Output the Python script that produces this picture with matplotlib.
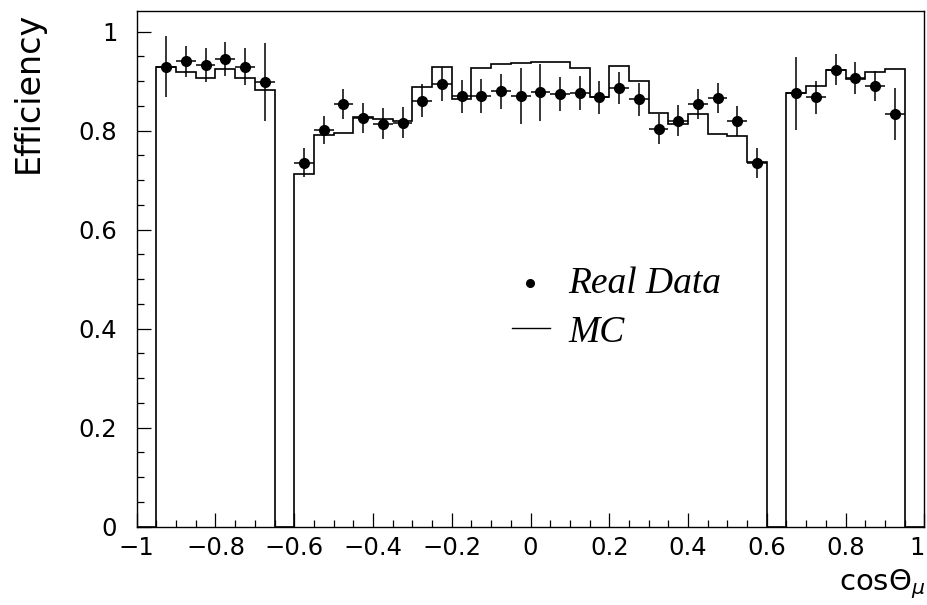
import matplotlib
matplotlib.use("Agg")
import matplotlib.pyplot as plt
from matplotlib.ticker import MultipleLocator
import numpy as np

# 40 bins of width 0.05 on cos(theta_mu); gaps are uninstrumented regions
edges = np.linspace(-1.0, 1.0, 41)
mc_eff = [0.0,
          0.928, 0.919, 0.907, 0.925, 0.907, 0.882,
          0.0,
          0.712, 0.791, 0.796, 0.827, 0.824, 0.820, 0.887, 0.929, 0.863, 0.926, 0.935, 0.936,
          0.938, 0.938, 0.927, 0.867, 0.931, 0.901, 0.835, 0.813, 0.833, 0.793, 0.789, 0.736,
          0.0,
          0.875, 0.889, 0.923, 0.905, 0.919, 0.925,
          0.0]
data_eff = [None,
            0.929, 0.940, 0.933, 0.945, 0.929, 0.898,
            None,
            0.735, 0.801, 0.854, 0.826, 0.814, 0.816, 0.860, 0.894, 0.869, 0.870, 0.879, 0.870,
            0.877, 0.874, 0.876, 0.867, 0.886, 0.863, 0.803, 0.820, 0.853, 0.866, 0.820, 0.734,
            None,
            0.875, 0.867, 0.923, 0.906, 0.890, 0.833,
            None]
data_err = [None,
            0.061, 0.031, 0.034, 0.034, 0.037, 0.078,
            None,
            0.029, 0.028, 0.030, 0.030, 0.031, 0.031, 0.033, 0.034, 0.034, 0.035, 0.036, 0.056,
            0.057, 0.035, 0.035, 0.033, 0.033, 0.033, 0.031, 0.032, 0.030, 0.030, 0.030, 0.030,
            None,
            0.074, 0.034, 0.032, 0.032, 0.030, 0.053,
            None]
xticks = [-1, -0.8, -0.6, -0.4, -0.2, 0, 0.2, 0.4, 0.6, 0.8, 1]
xticklabels = ["\u22121", "\u22120.8", "\u22120.6", "\u22120.4", "\u22120.2", "0",
               "0.2", "0.4", "0.6", "0.8", "1"]
yticks = [0, 0.2, 0.4, 0.6, 0.8, 1]
yticklabels = ["0", "0.2", "0.4", "0.6", "0.8", "1"]

plt.rcParams.update({"font.family": "DejaVu Sans", "font.size": 17.5})

fig = plt.figure(figsize=(9.27, 6.05), dpi=100)
ax = fig.add_axes([0.1475, 0.1294, 0.8496, 0.8529])

ax.stairs(mc_eff, edges, color="black", lw=1.2)

centers = 0.5 * (edges[:-1] + edges[1:])
y = np.array([np.nan if v is None else v for v in data_eff])
e = np.array([np.nan if v is None else v for v in data_err])
ok = ~np.isnan(y)
ax.errorbar(centers[ok], y[ok], yerr=e[ok], xerr=0.025, fmt="o", color="black",
            ms=7, elinewidth=1.1, capsize=0, zorder=3)

ax.set_xlim(-1, 1); ax.set_ylim(0, 1.042)
ax.set_xticks(xticks); ax.set_xticklabels(xticklabels)
ax.get_xticklabels()[-1].set_horizontalalignment("right")
ax.set_yticks(yticks); ax.set_yticklabels(yticklabels)
ax.xaxis.set_minor_locator(MultipleLocator(0.05))
ax.yaxis.set_minor_locator(MultipleLocator(0.05))
ax.tick_params(which="both", direction="in", top=False, right=False, width=0.9)
ax.tick_params(which="major", length=10)
ax.tick_params(which="minor", length=5)
ax.tick_params(axis="x", which="major", pad=7)
ax.tick_params(axis="y", which="major", pad=14)
for s in ax.spines.values():
    s.set_linewidth(1.0)

# legend drawn by hand (ROOT-style, no frame)
tr = ax.transAxes
def ax_xy(px, py):
    return ((px - 136.7) / 787.6, (526.7 - py) / 516.0)
mx, my = ax_xy(530, 283)
ax.plot([mx], [my], "o", color="black", ms=5.5, transform=tr)
l0, ly = ax_xy(512, 328); l1, _ = ax_xy(550, 328)
ax.plot([l0, l1], [ly, ly], color="black", lw=1.0, transform=tr)
tx, ty = ax_xy(568, 293)
ax.text(tx, ty, "Real Data", transform=tr, family="Liberation Serif", style="italic",
        fontsize=27, va="baseline", ha="left")
tx, ty = ax_xy(568, 342)
ax.text(tx, ty, "MC", transform=tr, family="Liberation Serif", style="italic",
        fontsize=27, va="baseline", ha="left")

fig.text(28 / 927, 1 - 12 / 605, "Efficiency", rotation=90, ha="center", va="top", fontsize=24)
fig.text(925 / 927, 1 - 590 / 605, r"cos$\Theta_{\mu}$", ha="right", va="baseline", fontsize=21)

fig.savefig("out.png", dpi=100)
